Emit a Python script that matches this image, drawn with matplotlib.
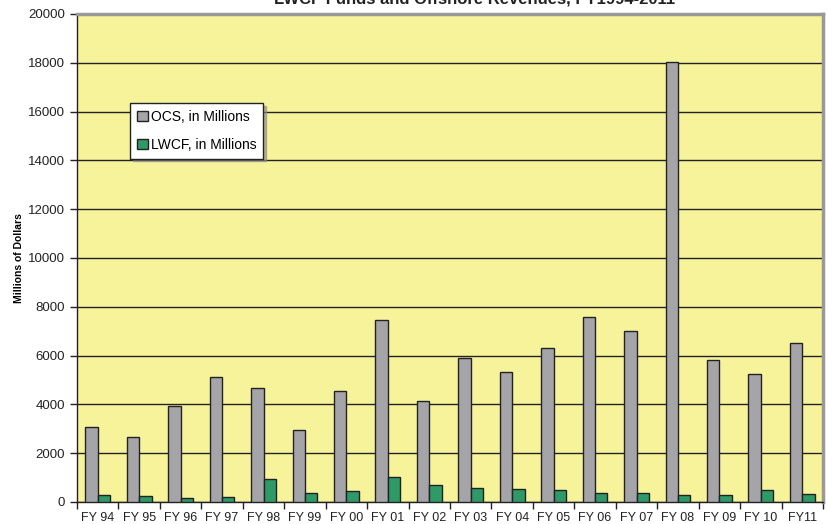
import numpy as np
import matplotlib
matplotlib.use("Agg")
import matplotlib.pyplot as plt

years = ["FY 94", "FY 95", "FY 96", "FY 97", "FY 98", "FY 99", "FY 00", "FY 01", "FY 02",
         "FY 03", "FY 04", "FY 05", "FY 06", "FY 07", "FY 08", "FY 09", "FY 10", "FY11"]
ocs = [3075, 2665, 3930, 5115, 4665, 2940, 4545, 7470, 4135,
       5910, 5345, 6300, 7580, 6995, 18030, 5800, 5240, 6520]
lwcf = [275, 245, 165, 190, 930, 355, 465, 1010, 700,
        560, 520, 480, 385, 385, 275, 290, 480, 315]

plt.rcParams['font.family'] = ['Liberation Sans', 'DejaVu Sans']

fig = plt.figure(figsize=(8.27, 5.24), dpi=100)
ax = fig.add_axes([77 / 827, 22 / 524, 746 / 827, 488 / 524])
ax.set_facecolor('#F7F39B')

x = np.arange(len(years))
w = 0.3
ax.bar(x - w / 2, ocs, w, color='#A5A5A9', edgecolor='#222222', linewidth=1,
       label='OCS, in Millions', zorder=3)
ax.bar(x + w / 2, lwcf, w, color='#2E9A68', edgecolor='#222222', linewidth=1,
       label='LWCF, in Millions', zorder=3)

ax.set_xlim(-0.5, len(years) - 0.5)
ax.set_ylim(0, 20000)
ax.set_yticks(np.arange(0, 20001, 2000))
ax.yaxis.grid(True, color='#222222', linewidth=1, zorder=1)

ax.set_xticks(x)
ax.set_xticklabels(years, fontsize=9, color='#222222')
ax.set_xticks(np.arange(-0.5, len(years), 1), minor=True)
ax.tick_params(axis='x', which='major', length=0, pad=7.5)
ax.tick_params(axis='x', which='minor', length=5, width=1, color='#222222')
ax.tick_params(axis='y', labelsize=9.5, length=5, width=1, color='#222222', labelcolor='#222222')

for s in ['top', 'right']:
    ax.spines[s].set_color('#999999')
    ax.spines[s].set_linewidth(2.5)
for s in ['left', 'bottom']:
    ax.spines[s].set_color('#222222')
    ax.spines[s].set_linewidth(1)

ax.set_ylabel('Millions of Dollars', fontsize=7.5, fontweight='bold', labelpad=3)

leg = ax.legend(loc='upper left', bbox_to_anchor=(0.071, 0.818), borderaxespad=0,
                fontsize=10, fancybox=False, framealpha=1, edgecolor='#222222',
                shadow={'color': '#888888', 'alpha': 0.6},
                handlelength=0.8, handleheight=0.8, handletextpad=0.2,
                labelspacing=1.0, borderpad=0.5)
leg.get_frame().set_linewidth(1)

fig.text(475 / 827, 1 - 4 / 524, 'LWCF Funds and Offshore Revenues, FY1994-2011',
         ha='center', va='baseline', fontsize=12, fontweight='bold', color='#222222')

fig.savefig('out.png', dpi=100)
